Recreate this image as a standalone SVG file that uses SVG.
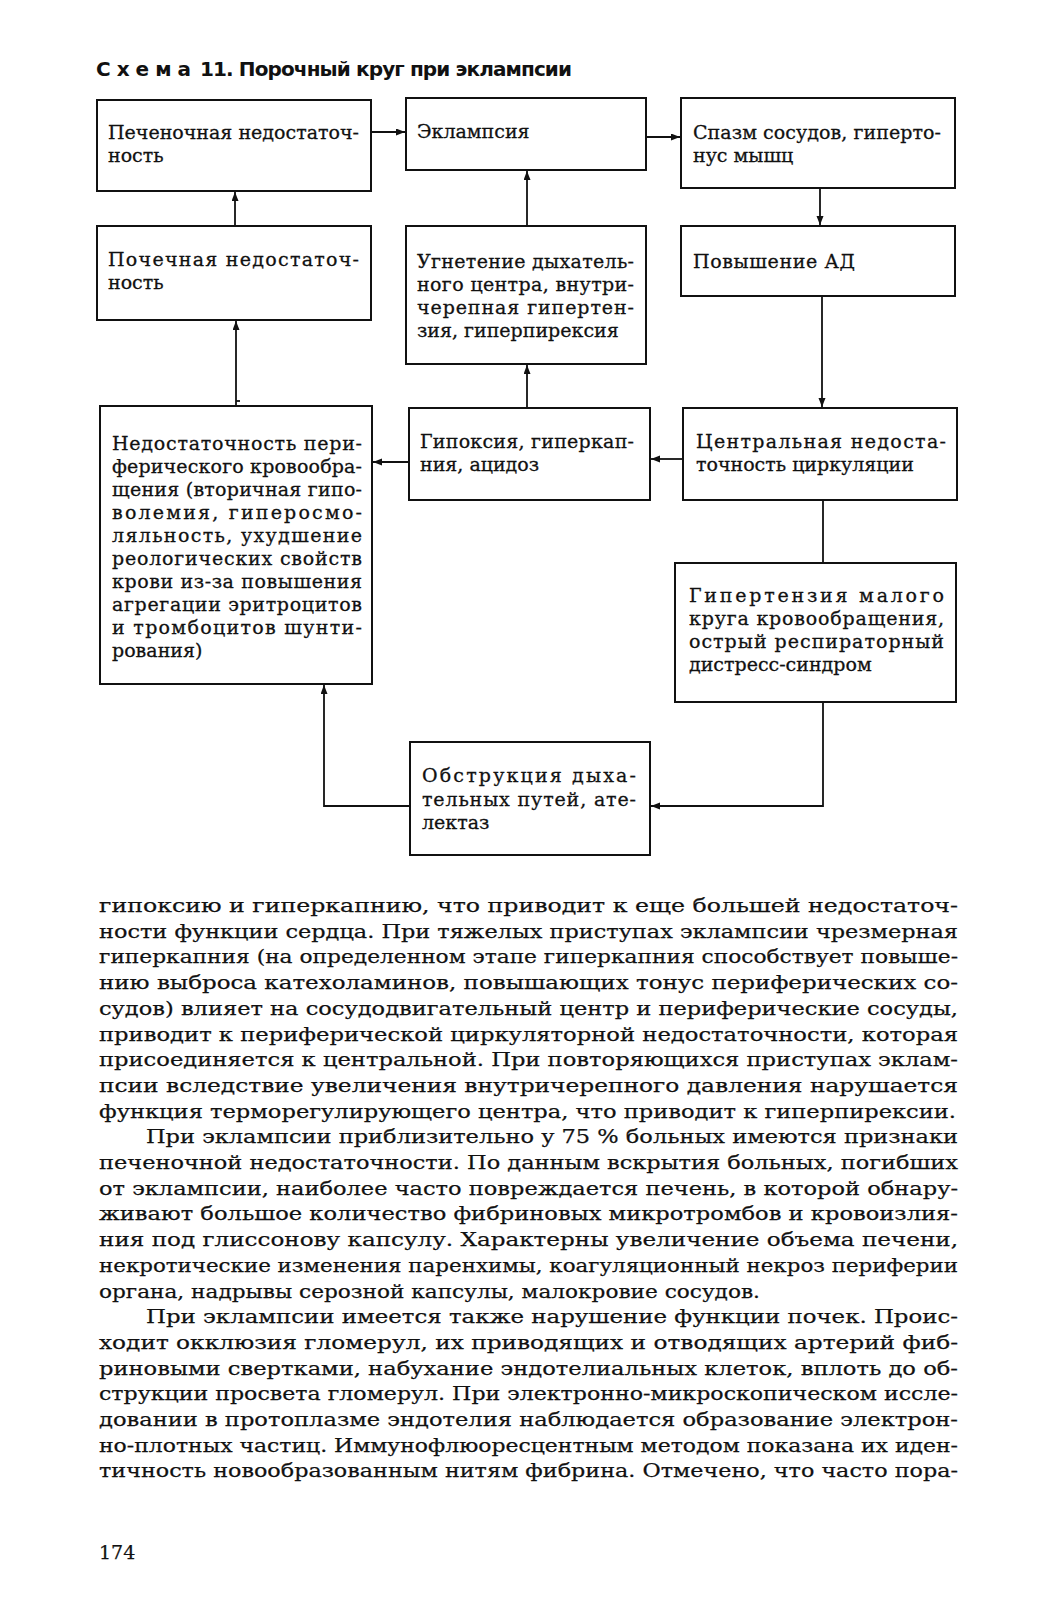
<svg xmlns="http://www.w3.org/2000/svg" width="1061" height="1600" viewBox="0 0 1061 1600">
<style>
.bg{fill:#ffffff}
.box{fill:#ffffff;stroke:#111;stroke-width:2}
.t{font-family:"DejaVu Serif","Liberation Serif",serif;font-size:19px;fill:#111;stroke:#111;stroke-width:0.3}
.b{font-family:"DejaVu Serif","Liberation Serif",serif;font-size:19px;fill:#111;stroke:#111;stroke-width:0.25}
.ttl{font-family:"DejaVu Sans","Liberation Sans",sans-serif;font-size:20px;font-weight:bold;fill:#111}
.c{fill:none;stroke:#111;stroke-width:1.8}
</style>
<defs>
<marker id="ah" markerUnits="userSpaceOnUse" markerWidth="10" markerHeight="8" refX="9" refY="3.5" orient="auto">
<path d="M0,0 L9,3.5 L0,7 z" fill="#111"/>
</marker>
</defs>
<rect class="bg" x="0" y="0" width="1061" height="1600"/>

<g id="title">
<text class="ttl" x="96" y="76" letter-spacing="6">Схема</text>
<text class="ttl" x="200" y="76" textLength="372" lengthAdjust="spacing">11. Порочный круг при эклампсии</text>
</g>

<g id="connectors">
<line class="c" x1="371" y1="132" x2="405" y2="132" marker-end="url(#ah)"/>
<line class="c" x1="646" y1="137" x2="680" y2="137" marker-end="url(#ah)"/>
<line class="c" x1="820" y1="188" x2="820" y2="225" marker-end="url(#ah)"/>
<line class="c" x1="822" y1="296" x2="822" y2="407" marker-end="url(#ah)"/>
<line class="c" x1="823" y1="500" x2="823" y2="563"/>
<polyline class="c" points="823,702 823,806 651,806" marker-end="url(#ah)"/>
<polyline class="c" points="410,806 324,806 324,685" marker-end="url(#ah)"/>
<line class="c" x1="683" y1="459" x2="651" y2="459" marker-end="url(#ah)"/>
<line class="c" x1="409" y1="462" x2="373" y2="462" marker-end="url(#ah)"/>
<line class="c" x1="527" y1="408" x2="527" y2="365" marker-end="url(#ah)"/>
<line class="c" x1="527" y1="226" x2="527" y2="171" marker-end="url(#ah)"/>
<line class="c" x1="236" y1="406" x2="236" y2="321" marker-end="url(#ah)"/>
<line class="c" x1="236" y1="401" x2="240" y2="401"/>
<line class="c" x1="235" y1="226" x2="235" y2="192" marker-end="url(#ah)"/>
</g>

<g id="n1">
<rect class="box" x="97" y="100" width="274" height="91"/>
<text class="t" x="108" y="139" textLength="251" lengthAdjust="spacing">Печеночная недостаточ-</text>
<text class="t" x="108" y="162">ность</text>
</g>
<g id="n2">
<rect class="box" x="406" y="98" width="240" height="72"/>
<text class="t" x="417" y="138">Эклампсия</text>
</g>
<g id="n3">
<rect class="box" x="681" y="98" width="274" height="90"/>
<text class="t" x="693" y="139" textLength="248" lengthAdjust="spacing">Спазм сосудов, гиперто-</text>
<text class="t" x="693" y="162">нус мышц</text>
</g>
<g id="n4">
<rect class="box" x="97" y="226" width="274" height="94"/>
<text class="t" x="108" y="266" textLength="251" lengthAdjust="spacing">Почечная недостаточ-</text>
<text class="t" x="108" y="289">ность</text>
</g>
<g id="n5">
<rect class="box" x="406" y="226" width="240" height="138"/>
<text class="t" x="417" y="268" textLength="217" lengthAdjust="spacing">Угнетение дыхатель-</text>
<text class="t" x="417" y="291" textLength="217" lengthAdjust="spacing">ного центра, внутри-</text>
<text class="t" x="417" y="314" textLength="217" lengthAdjust="spacing">черепная гипертен-</text>
<text class="t" x="417" y="337">зия, гиперпирексия</text>
</g>
<g id="n6">
<rect class="box" x="681" y="226" width="274" height="70"/>
<text class="t" x="693" y="268" textLength="162" lengthAdjust="spacing">Повышение АД</text>
</g>
<g id="n7">
<rect class="box" x="100" y="406" width="272" height="278"/>
<text class="t" x="112" y="450" textLength="250" lengthAdjust="spacing">Недостаточность пери-</text>
<text class="t" x="112" y="473" textLength="250" lengthAdjust="spacing">ферического кровообра-</text>
<text class="t" x="112" y="496" textLength="250" lengthAdjust="spacing">щения (вторичная гипо-</text>
<text class="t" x="112" y="519" textLength="250" lengthAdjust="spacing">волемия, гиперосмо-</text>
<text class="t" x="112" y="542" textLength="250" lengthAdjust="spacing">ляльность, ухудшение</text>
<text class="t" x="112" y="565" textLength="250" lengthAdjust="spacing">реологических свойств</text>
<text class="t" x="112" y="588" textLength="250" lengthAdjust="spacing">крови из-за повышения</text>
<text class="t" x="112" y="611" textLength="250" lengthAdjust="spacing">агрегации эритроцитов</text>
<text class="t" x="112" y="634" textLength="250" lengthAdjust="spacing">и тромбоцитов шунти-</text>
<text class="t" x="112" y="657">рования)</text>
</g>
<g id="n8">
<rect class="box" x="409" y="408" width="241" height="92"/>
<text class="t" x="420" y="448" textLength="214" lengthAdjust="spacing">Гипоксия, гиперкап-</text>
<text class="t" x="420" y="471">ния, ацидоз</text>
</g>
<g id="n9">
<rect class="box" x="683" y="408" width="274" height="92"/>
<text class="t" x="696" y="448" textLength="250" lengthAdjust="spacing">Центральная недоста-</text>
<text class="t" x="696" y="471">точность циркуляции</text>
</g>
<g id="n10">
<rect class="box" x="675" y="563" width="281" height="139"/>
<text class="t" x="689" y="602" textLength="255" lengthAdjust="spacing">Гипертензия малого</text>
<text class="t" x="689" y="625" textLength="255" lengthAdjust="spacing">круга кровообращения,</text>
<text class="t" x="689" y="648" textLength="255" lengthAdjust="spacing">острый респираторный</text>
<text class="t" x="689" y="671">дистресс-синдром</text>
</g>
<g id="n11">
<rect class="box" x="410" y="742" width="240" height="113"/>
<text class="t" x="422" y="782" textLength="214" lengthAdjust="spacing">Обструкция дыха-</text>
<text class="t" x="422" y="806" textLength="214" lengthAdjust="spacing">тельных путей, ате-</text>
<text class="t" x="422" y="829">лектаз</text>
</g>

<g id="body">
<text class="b" x="99" y="912" textLength="859" lengthAdjust="spacingAndGlyphs">гипоксию и гиперкапнию, что приводит к еще большей недостаточ-</text>
<text class="b" x="99" y="937.7" textLength="859" lengthAdjust="spacingAndGlyphs">ности функции сердца. При тяжелых приступах эклампсии чрезмерная</text>
<text class="b" x="99" y="963.4" textLength="859" lengthAdjust="spacingAndGlyphs">гиперкапния (на определенном этапе гиперкапния способствует повыше-</text>
<text class="b" x="99" y="989.1" textLength="859" lengthAdjust="spacingAndGlyphs">нию выброса катехоламинов, повышающих тонус периферических со-</text>
<text class="b" x="99" y="1014.8" textLength="859" lengthAdjust="spacingAndGlyphs">судов) влияет на сосудодвигательный центр и периферические сосуды,</text>
<text class="b" x="99" y="1040.5" textLength="859" lengthAdjust="spacingAndGlyphs">приводит к периферической циркуляторной недостаточности, которая</text>
<text class="b" x="99" y="1066.2" textLength="859" lengthAdjust="spacingAndGlyphs">присоединяется к центральной. При повторяющихся приступах эклам-</text>
<text class="b" x="99" y="1091.9" textLength="859" lengthAdjust="spacingAndGlyphs">псии вследствие увеличения внутричерепного давления нарушается</text>
<text class="b" x="99" y="1117.6" textLength="857" lengthAdjust="spacingAndGlyphs">функция терморегулирующего центра, что приводит к гиперпирексии.</text>
<text class="b" x="146" y="1143.3" textLength="812" lengthAdjust="spacingAndGlyphs">При эклампсии приблизительно у 75 % больных имеются признаки</text>
<text class="b" x="99" y="1169" textLength="859" lengthAdjust="spacingAndGlyphs">печеночной недостаточности. По данным вскрытия больных, погибших</text>
<text class="b" x="99" y="1194.7" textLength="859" lengthAdjust="spacingAndGlyphs">от эклампсии, наиболее часто повреждается печень, в которой обнару-</text>
<text class="b" x="99" y="1220.4" textLength="859" lengthAdjust="spacingAndGlyphs">живают большое количество фибриновых микротромбов и кровоизлия-</text>
<text class="b" x="99" y="1246.1" textLength="859" lengthAdjust="spacingAndGlyphs">ния под глиссонову капсулу. Характерны увеличение объема печени,</text>
<text class="b" x="99" y="1271.8" textLength="859" lengthAdjust="spacingAndGlyphs">некротические изменения паренхимы, коагуляционный некроз периферии</text>
<text class="b" x="99" y="1297.5" textLength="661" lengthAdjust="spacingAndGlyphs">органа, надрывы серозной капсулы, малокровие сосудов.</text>
<text class="b" x="146" y="1323.2" textLength="812" lengthAdjust="spacingAndGlyphs">При эклампсии имеется также нарушение функции почек. Проис-</text>
<text class="b" x="99" y="1348.9" textLength="859" lengthAdjust="spacingAndGlyphs">ходит окклюзия гломерул, их приводящих и отводящих артерий фиб-</text>
<text class="b" x="99" y="1374.6" textLength="859" lengthAdjust="spacingAndGlyphs">риновыми свертками, набухание эндотелиальных клеток, вплоть до об-</text>
<text class="b" x="99" y="1400.3" textLength="859" lengthAdjust="spacingAndGlyphs">струкции просвета гломерул. При электронно-микроскопическом иссле-</text>
<text class="b" x="99" y="1426" textLength="859" lengthAdjust="spacingAndGlyphs">довании в протоплазме эндотелия наблюдается образование электрон-</text>
<text class="b" x="99" y="1451.7" textLength="859" lengthAdjust="spacingAndGlyphs">но-плотных частиц. Иммунофлюоресцентным методом показана их иден-</text>
<text class="b" x="99" y="1477.4" textLength="859" lengthAdjust="spacingAndGlyphs">тичность новообразованным нитям фибрина. Отмечено, что часто пора-</text>
<text class="b" x="99" y="1559">174</text>
</g>
</svg>
